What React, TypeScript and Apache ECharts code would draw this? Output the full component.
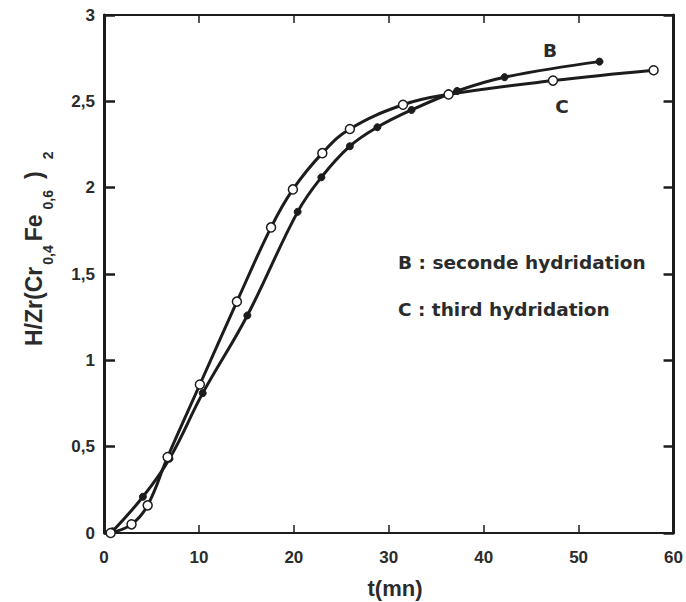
import React, { useEffect, useRef } from "react";
import * as echarts from "echarts";

// t (mn) and H/Zr(Cr0.4Fe0.6)2
const bTime = [0.9, 4.1, 6.9, 10.4, 15.1, 20.4, 22.9, 25.9, 28.8, 32.4, 37.2, 42.2, 52.2];
const bValue = [0.01, 0.21, 0.43, 0.81, 1.26, 1.86, 2.06, 2.24, 2.35, 2.45, 2.56, 2.64, 2.73];
const cTime = [0.7, 2.9, 4.6, 6.7, 10.1, 14.0, 17.6, 19.9, 23.0, 25.9, 31.5, 36.3, 47.3, 57.9];
const cValue = [0, 0.05, 0.16, 0.44, 0.86, 1.34, 1.77, 1.99, 2.2, 2.34, 2.48, 2.54, 2.62, 2.68];

const xMin = 0, xMax = 60, xStep = 10;
const yMin = 0, yMax = 3, yStep = 0.5;

const legendLines = ["B : seconde hydridation", "C : third hydridation"];
const curveLabels = ["B", "C"];

const TEXT = "#2b2b2b";
const LINE = "#1c1c1c";

function measure(text: string, font: string): number {
  const ctx = document.createElement("canvas").getContext("2d");
  if (!ctx) return text.length * 10;
  ctx.font = font;
  return ctx.measureText(text).width;
}

function buildYTitle() {
  const mainSize = 23, subSize = 14;
  const fam = '"Liberation Sans", Arial, sans-serif';
  const segs: { t: string; sub: boolean; gap: number }[] = [
    { t: "H/Zr(Cr", sub: false, gap: 2 },
    { t: "0,4", sub: true, gap: 4 },
    { t: "Fe", sub: false, gap: 5 },
    { t: "0,6", sub: true, gap: 11 },
    { t: ")", sub: false, gap: 12 },
    { t: "2", sub: true, gap: 0 },
  ];
  const children: any[] = [];
  let pos = 0;
  segs.forEach((s) => {
    const size = s.sub ? subSize : mainSize;
    const font = `bold ${size}px ${fam}`;
    children.push({
      type: "text",
      x: pos,
      y: s.sub ? 6 : -8,
      style: {
        text: s.t,
        fill: TEXT,
        font,
        align: "left",
        verticalAlign: "middle",
      },
    });
    pos += measure(s.t, font) + s.gap;
  });
  return {
    type: "group",
    x: 42,
    y: 346,
    rotation: Math.PI / 2,
    children,
  };
}

export default function App() {
  const ref = useRef<HTMLDivElement>(null);

  useEffect(() => {
    if (!ref.current) return;
    const chart = echarts.init(ref.current, null, { renderer: "svg" });
    const tickFont = {
      fontFamily: '"Liberation Sans", Arial, sans-serif',
      fontWeight: "bold" as const,
      fontSize: 17,
      color: TEXT,
    };
    const legendFont = 'bold 18.5px "DejaVu Sans", Verdana, sans-serif';

    chart.setOption({
      animation: false,
      backgroundColor: "#ffffff",
      grid: { left: 104, right: 9, top: 15, bottom: 69, containLabel: false },
      xAxis: [
        {
          type: "value",
          min: xMin,
          max: xMax,
          interval: xStep,
          position: "bottom",
          axisLine: { show: true, onZero: false, lineStyle: { color: LINE, width: 2 } },
          axisTick: { show: true, inside: true, length: 8, lineStyle: { color: LINE, width: 1.5 } },
          axisLabel: { ...tickFont, margin: 16 },
          splitLine: { show: false },
        },
        {
          type: "value",
          min: xMin,
          max: xMax,
          interval: xStep,
          position: "top",
          axisLine: { show: true, onZero: false, lineStyle: { color: LINE, width: 2 } },
          axisTick: { show: true, inside: true, length: 8, lineStyle: { color: LINE, width: 1.5 } },
          axisLabel: { show: false },
          splitLine: { show: false },
        },
      ],
      yAxis: [
        {
          type: "value",
          min: yMin,
          max: yMax,
          interval: yStep,
          position: "left",
          axisLine: { show: true, onZero: false, lineStyle: { color: LINE, width: 3 } },
          axisTick: { show: true, inside: true, length: 11, lineStyle: { color: LINE, width: 2.5 } },
          axisLabel: {
            ...tickFont,
            margin: 9,
            formatter: (v: number) => String(v).replace(".", ","),
          },
          splitLine: { show: false },
        },
        {
          type: "value",
          min: yMin,
          max: yMax,
          interval: yStep,
          position: "right",
          axisLine: { show: true, onZero: false, lineStyle: { color: LINE, width: 3 } },
          axisTick: { show: true, inside: true, length: 10, lineStyle: { color: LINE, width: 2.5 } },
          axisLabel: { show: false },
          splitLine: { show: false },
        },
      ],
      series: [
        {
          name: "B",
          type: "line",
          xAxisIndex: 0,
          yAxisIndex: 0,
          data: bTime.map((t, i) => [t, bValue[i]]),
          smooth: 0.4,
          symbol: "circle",
          symbolSize: 7,
          showAllSymbol: true,
          lineStyle: { color: LINE, width: 3 },
          itemStyle: { color: LINE, borderColor: LINE, borderWidth: 1 },
          z: 3,
        },
        {
          name: "C",
          type: "line",
          xAxisIndex: 0,
          yAxisIndex: 0,
          data: cTime.map((t, i) => [t, cValue[i]]),
          smooth: 0.4,
          symbol: "circle",
          symbolSize: 9,
          showAllSymbol: true,
          lineStyle: { color: LINE, width: 3 },
          itemStyle: { color: "#ffffff", borderColor: LINE, borderWidth: 1.5 },
          z: 4,
        },
      ],
      graphic: [
        buildYTitle(),
        {
          type: "text",
          x: 395,
          y: 588,
          style: {
            text: "t(mn)",
            fill: TEXT,
            font: 'bold 22px "Liberation Sans", Arial, sans-serif',
            align: "center",
            verticalAlign: "middle",
          },
        },
        {
          type: "text",
          x: 398,
          y: 262,
          style: { text: legendLines[0], fill: TEXT, font: legendFont, align: "left", verticalAlign: "middle" },
        },
        {
          type: "text",
          x: 398,
          y: 309,
          style: { text: legendLines[1], fill: TEXT, font: legendFont, align: "left", verticalAlign: "middle" },
        },
        {
          type: "text",
          x: 550,
          y: 50,
          style: { text: curveLabels[0], fill: TEXT, font: legendFont, align: "center", verticalAlign: "middle" },
        },
        {
          type: "text",
          x: 562,
          y: 106,
          style: { text: curveLabels[1], fill: TEXT, font: legendFont, align: "center", verticalAlign: "middle" },
        },
      ],
    });

    return () => chart.dispose();
  }, []);

  return <div ref={ref} style={{ width: 686, height: 602, position: "absolute", left: 0, top: 0 }} />;
}
